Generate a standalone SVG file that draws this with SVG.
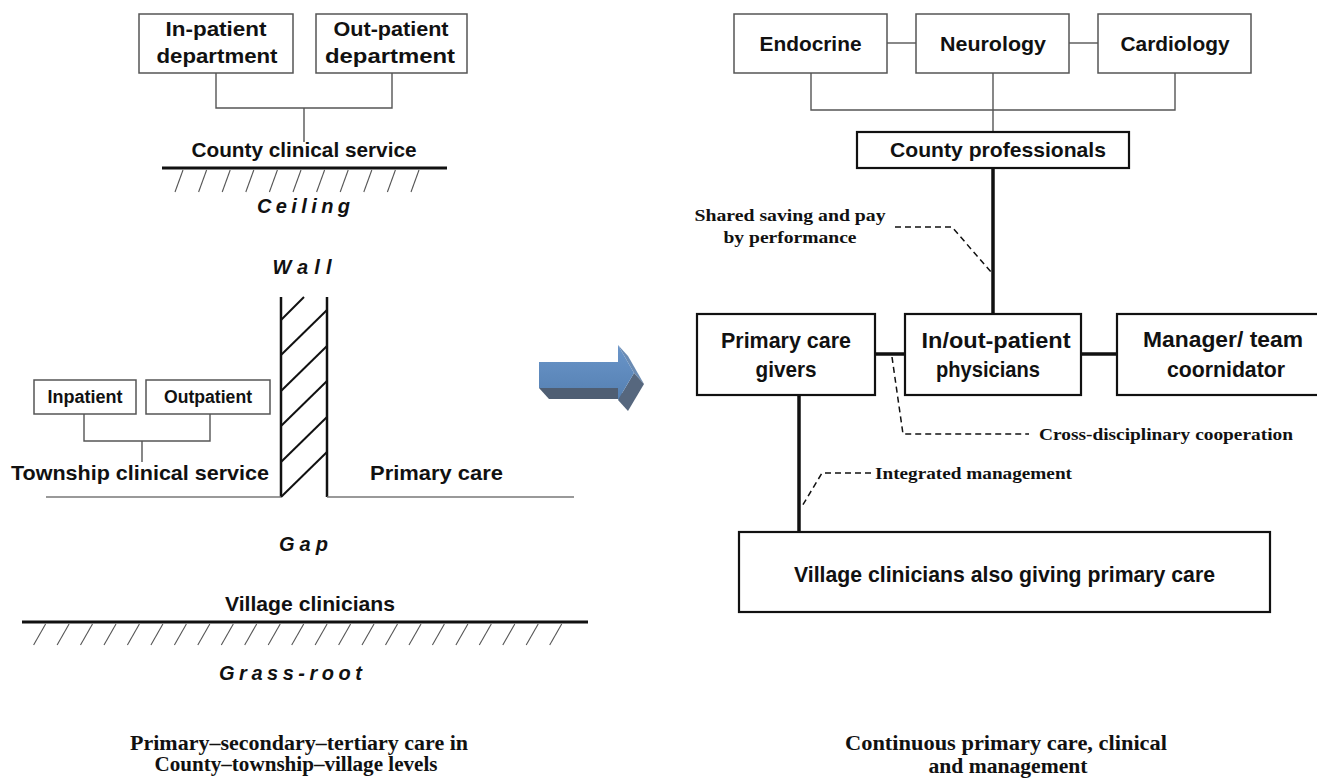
<svg xmlns="http://www.w3.org/2000/svg" width="1317" height="778" viewBox="0 0 1317 778">
<defs>
<style>
.sans{font-family:"Liberation Sans",Arial,sans-serif;font-weight:bold;fill:#111;}
.ital{font-family:"Liberation Sans",Arial,sans-serif;font-weight:bold;font-style:italic;fill:#111;font-size:20px;}
.serif{font-family:"Liberation Serif","Times New Roman",serif;font-weight:bold;fill:#111;}
.box{fill:#fff;stroke:#555;stroke-width:1.5;}
.boxk{fill:#fff;stroke:#111;stroke-width:2.2;}
.thin{fill:none;stroke:#555;stroke-width:1.4;}
.thick{fill:none;stroke:#111;stroke-width:3.5;}
.dash{fill:none;stroke:#111;stroke-width:1.5;stroke-dasharray:6 4;}
.hatch{stroke:#555;stroke-width:1.1;}
</style>
<linearGradient id="arrowFront" x1="0" y1="0" x2="0" y2="1">
<stop offset="0" stop-color="#6a95c9"/>
<stop offset="1" stop-color="#5580b2"/>
</linearGradient>
</defs>
<rect width="1317" height="778" fill="#fff"/>

<!-- LEFT PANEL -->
<g id="inpatient-dept">
<rect class="box" x="139" y="14" width="154" height="59"/>
<text class="sans" font-size="21" x="216" y="36" text-anchor="middle" textLength="101" lengthAdjust="spacingAndGlyphs">In-patient</text>
<text class="sans" font-size="21" x="217" y="63" text-anchor="middle" textLength="121" lengthAdjust="spacingAndGlyphs">department</text>
</g>
<g id="outpatient-dept">
<rect class="box" x="316" y="14" width="151" height="59"/>
<text class="sans" font-size="21" x="391" y="36" text-anchor="middle" textLength="115" lengthAdjust="spacingAndGlyphs">Out-patient</text>
<text class="sans" font-size="21" x="390" y="63" text-anchor="middle" textLength="130" lengthAdjust="spacingAndGlyphs">department</text>
</g>
<g id="county-clinical">
<text class="sans" font-size="21" x="304" y="157" text-anchor="middle" textLength="225" lengthAdjust="spacingAndGlyphs">County clinical service</text>
<line x1="162" y1="168" x2="447" y2="168" stroke="#111" stroke-width="3"/>
<g class="hatch">
<line x1="183" y1="170" x2="175" y2="192"/><line x1="206.6" y1="170" x2="198.6" y2="192"/><line x1="230.2" y1="170" x2="222.2" y2="192"/><line x1="253.8" y1="170" x2="245.8" y2="192"/><line x1="277.4" y1="170" x2="269.4" y2="192"/><line x1="301" y1="170" x2="293" y2="192"/><line x1="324.6" y1="170" x2="316.6" y2="192"/><line x1="348.2" y1="170" x2="340.2" y2="192"/><line x1="371.8" y1="170" x2="363.8" y2="192"/><line x1="395.4" y1="170" x2="387.4" y2="192"/><line x1="419" y1="170" x2="411" y2="192"/>
</g>
<text class="ital" x="303.5" y="213" text-anchor="middle" textLength="93" lengthAdjust="spacing">Ceiling</text>
</g>

<g id="wall">
<text class="ital" x="302" y="274" text-anchor="middle" textLength="59" lengthAdjust="spacing">Wall</text>
<line x1="281" y1="297" x2="281" y2="497" stroke="#111" stroke-width="2.5"/>
<line x1="327" y1="297" x2="327" y2="497" stroke="#111" stroke-width="2.5"/>
<g stroke="#111" stroke-width="2">
<line x1="281" y1="320" x2="304" y2="297"/>
<line x1="281" y1="355" x2="327" y2="310"/>
<line x1="281" y1="391" x2="327" y2="346"/>
<line x1="281" y1="426" x2="327" y2="381"/>
<line x1="281" y1="462" x2="327" y2="417"/>
<line x1="281" y1="497" x2="327" y2="452"/>
</g>
</g>

<g id="township-inpatient">
<rect class="box" x="34" y="380" width="102" height="34"/>
<text class="sans" font-size="18" x="85" y="403" text-anchor="middle" textLength="75" lengthAdjust="spacingAndGlyphs">Inpatient</text>
</g>
<g id="township-outpatient">
<rect class="box" x="146" y="380" width="124" height="34"/>
<text class="sans" font-size="18" x="208" y="403" text-anchor="middle" textLength="88" lengthAdjust="spacingAndGlyphs">Outpatient</text>
</g>
<g id="township-clinical">
<text class="sans" font-size="21" x="140" y="480" text-anchor="middle" textLength="258" lengthAdjust="spacingAndGlyphs">Township clinical service</text>
<line x1="46" y1="497" x2="281" y2="497" stroke="#777" stroke-width="1.5"/>
</g>
<g id="primary-care-left">
<text class="sans" font-size="21" x="436.5" y="480" text-anchor="middle" textLength="133" lengthAdjust="spacingAndGlyphs">Primary care</text>
<line x1="327" y1="497" x2="574" y2="497" stroke="#777" stroke-width="1.5"/>
</g>
<g id="gap">
<text class="ital" x="303.5" y="551" text-anchor="middle" textLength="49" lengthAdjust="spacing">Gap</text>
</g>

<g id="village-clinicians">
<text class="sans" font-size="21" x="310" y="611" text-anchor="middle" textLength="170" lengthAdjust="spacingAndGlyphs">Village clinicians</text>
<line x1="22" y1="622" x2="588" y2="622" stroke="#111" stroke-width="3"/>
<g class="hatch">
<line x1="45.6" y1="624" x2="33.6" y2="645"/><line x1="69.1" y1="624" x2="57.1" y2="645"/><line x1="92.5" y1="624" x2="80.5" y2="645"/><line x1="116" y1="624" x2="104" y2="645"/><line x1="139.4" y1="624" x2="127.4" y2="645"/><line x1="162.9" y1="624" x2="150.9" y2="645"/><line x1="186.4" y1="624" x2="174.4" y2="645"/><line x1="209.8" y1="624" x2="197.8" y2="645"/><line x1="233.3" y1="624" x2="221.3" y2="645"/><line x1="256.7" y1="624" x2="244.7" y2="645"/><line x1="280.2" y1="624" x2="268.2" y2="645"/><line x1="303.7" y1="624" x2="291.7" y2="645"/><line x1="327.1" y1="624" x2="315.1" y2="645"/><line x1="350.6" y1="624" x2="338.6" y2="645"/><line x1="374" y1="624" x2="362" y2="645"/><line x1="397.5" y1="624" x2="385.5" y2="645"/><line x1="421" y1="624" x2="409" y2="645"/><line x1="444.4" y1="624" x2="432.4" y2="645"/><line x1="467.9" y1="624" x2="455.9" y2="645"/><line x1="491.3" y1="624" x2="479.3" y2="645"/><line x1="514.8" y1="624" x2="502.8" y2="645"/><line x1="538.2" y1="624" x2="526.2" y2="645"/><line x1="561.7" y1="624" x2="549.7" y2="645"/>
</g>
<text class="ital" x="290.5" y="680" text-anchor="middle" textLength="143" lengthAdjust="spacing">Grass-root</text>
</g>

<g id="caption-left">
<text class="serif" font-size="20" x="299" y="750" text-anchor="middle" textLength="338" lengthAdjust="spacingAndGlyphs">Primary–secondary–tertiary care in</text>
<text class="serif" font-size="20" x="296" y="771" text-anchor="middle" textLength="283" lengthAdjust="spacingAndGlyphs">County–township–village levels</text>
</g>

<!-- BIG ARROW -->
<g id="transition-arrow">
<polygon points="539,388 618,388 628,399 549,399" fill="#4f5e73"/>
<polygon points="618,345 628,356 644,384 634,373" fill="#6a8bb3"/>
<polygon points="634,373 644,384 628,411 618,400" fill="#56677e"/>
<polygon points="539,362 618,362 618,345 634,373 618,400 618,388 539,388" fill="url(#arrowFront)"/>
</g>

<!-- RIGHT PANEL: connectors -->
<g id="connectors">
<polyline class="thin" points="811,73 811,110 1175,110 1175,73"/>
<line class="thin" x1="993" y1="73" x2="993" y2="132"/>
<line class="thin" x1="887" y1="43" x2="916" y2="43"/>
<line class="thin" x1="1069" y1="43" x2="1098" y2="43"/>
<polyline class="thin" points="216,73 216,108 392,108 392,73"/>
<line class="thin" x1="304" y1="108" x2="304" y2="142"/>
<polyline class="thin" points="84,414 84,441 210,441 210,414"/>
<line class="thin" x1="142" y1="441" x2="142" y2="462"/>
<line class="thick" x1="993" y1="168" x2="993" y2="314"/>
<line class="thick" x1="875" y1="354" x2="905" y2="354"/>
<line class="thick" x1="1081" y1="354" x2="1117" y2="354"/>
<line class="thick" x1="799" y1="395" x2="799" y2="532"/>
<polyline class="dash" points="895,227 952,227 991,272"/>
<polyline class="dash" points="892,357 903,434 1029,434"/>
<polyline class="dash" points="871,473 822,473 801,508"/>
</g>

<g id="endocrine">
<rect class="box" x="734" y="14" width="153" height="59"/>
<text class="sans" font-size="21" x="810.5" y="51" text-anchor="middle" textLength="102" lengthAdjust="spacingAndGlyphs">Endocrine</text>
</g>
<g id="neurology">
<rect class="box" x="916" y="14" width="153" height="59"/>
<text class="sans" font-size="21" x="993" y="51" text-anchor="middle" textLength="106" lengthAdjust="spacingAndGlyphs">Neurology</text>
</g>
<g id="cardiology">
<rect class="box" x="1098" y="14" width="153" height="59"/>
<text class="sans" font-size="21" x="1175" y="51" text-anchor="middle" textLength="109" lengthAdjust="spacingAndGlyphs">Cardiology</text>
</g>
<g id="county-professionals">
<rect class="boxk" x="857" y="132" width="272" height="36"/>
<text class="sans" font-size="21" x="998" y="157" text-anchor="middle" textLength="216" lengthAdjust="spacingAndGlyphs">County professionals</text>
</g>
<g id="label-shared-saving">
<text class="serif" font-size="17" x="790" y="221" text-anchor="middle" textLength="191" lengthAdjust="spacingAndGlyphs">Shared saving and pay</text>
<text class="serif" font-size="17" x="790" y="243" text-anchor="middle" textLength="133" lengthAdjust="spacingAndGlyphs">by performance</text>
</g>
<g id="primary-care-givers">
<rect class="boxk" x="697" y="314" width="178" height="81"/>
<text class="sans" font-size="22" x="786" y="348" text-anchor="middle" textLength="130" lengthAdjust="spacingAndGlyphs">Primary care</text>
<text class="sans" font-size="22" x="786" y="377" text-anchor="middle" textLength="61" lengthAdjust="spacingAndGlyphs">givers</text>
</g>
<g id="inout-physicians">
<rect class="boxk" x="905" y="314" width="176" height="81"/>
<text class="sans" font-size="22" x="996" y="348" text-anchor="middle" textLength="149" lengthAdjust="spacingAndGlyphs">In/out-patient</text>
<text class="sans" font-size="22" x="988" y="377" text-anchor="middle" textLength="104" lengthAdjust="spacingAndGlyphs">physicians</text>
</g>
<g id="manager-team">
<rect class="boxk" x="1117" y="314" width="215" height="81"/>
<text class="sans" font-size="22" x="1223" y="347" text-anchor="middle" textLength="160" lengthAdjust="spacingAndGlyphs">Manager/ team</text>
<text class="sans" font-size="22" x="1226" y="377" text-anchor="middle" textLength="118" lengthAdjust="spacingAndGlyphs">coornidator</text>
</g>
<g id="label-cross-disciplinary">
<text class="serif" font-size="17" x="1039" y="440" textLength="254" lengthAdjust="spacingAndGlyphs">Cross-disciplinary cooperation</text>
</g>
<g id="label-integrated">
<text class="serif" font-size="17" x="875" y="479" textLength="197" lengthAdjust="spacingAndGlyphs">Integrated management</text>
</g>
<g id="village-box">
<rect class="boxk" x="739" y="532" width="531" height="80"/>
<text class="sans" font-size="22" x="1004.5" y="582" text-anchor="middle" textLength="421" lengthAdjust="spacingAndGlyphs">Village clinicians also giving primary care</text>
</g>
<g id="caption-right">
<text class="serif" font-size="20" x="1006" y="750" text-anchor="middle" textLength="322" lengthAdjust="spacingAndGlyphs">Continuous primary care, clinical</text>
<text class="serif" font-size="20" x="1008" y="773" text-anchor="middle" textLength="159" lengthAdjust="spacingAndGlyphs">and management</text>
</g>
</svg>
